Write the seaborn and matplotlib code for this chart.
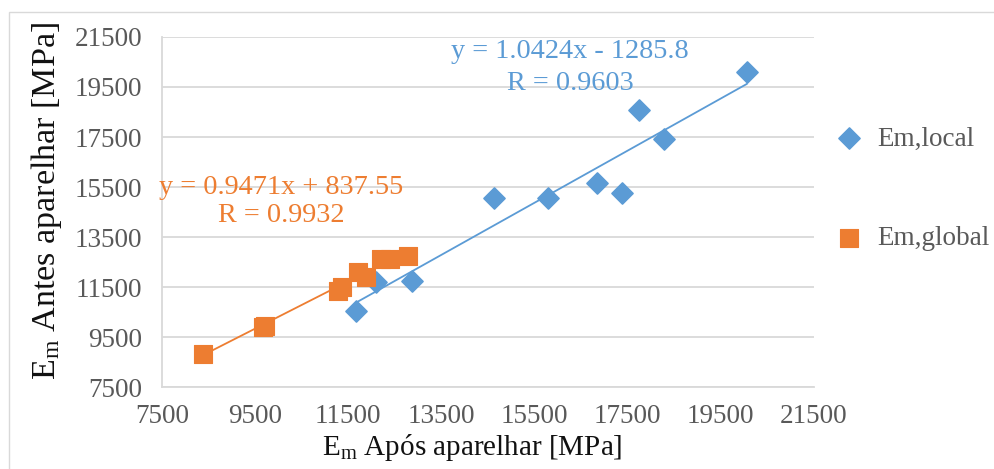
import numpy as np
import pandas as pd
import matplotlib
matplotlib.use("Agg")
import matplotlib.pyplot as plt
from matplotlib.patches import Rectangle
import seaborn as sns

# Modulus after straightening (x) vs. before straightening (y), MPa
local_x = [11666, 12095, 12868, 14629, 15789, 16841, 17378, 17743, 18280, 20062]
local_y = [10540, 11700, 11740, 15060, 15060, 15660, 15260, 18580, 17420, 20100]

global_x = [8374, 9669, 9712, 11279, 11365, 11709, 11880, 12192, 12385, 12789]
global_y = [8808, 9880, 9940, 11340, 11500, 12100, 11900, 12608, 12620, 12740]

# Linear trend lines (slope, intercept) and correlation
local_fit = (1.0424, -1285.8)
local_r = 0.9603
global_fit = (0.9471, 837.55)
global_r = 0.9932

x_ticks = [7500, 9500, 11500, 13500, 15500, 17500, 19500, 21500]
y_ticks = [7500, 9500, 11500, 13500, 15500, 17500, 19500, 21500]

BLUE = "#5B9BD5"
ORANGE = "#ED7D31"
GRID = "#D9D9D9"
TICK = "#595959"

sns.set_theme(style="white")
plt.rcParams["font.family"] = ["Liberation Serif", "DejaVu Serif"]
plt.rcParams["mathtext.fontset"] = "custom"
plt.rcParams["mathtext.rm"] = "Liberation Serif"

W, H = 994, 469
fig = plt.figure(figsize=(W / 100, H / 100), dpi=100)
fig.patch.set_facecolor("white")

# chart-area border
fig.patches.append(Rectangle((9 / W, -0.1), 1.2, 1.1 - 12 / H,
                             transform=fig.transFigure, fill=False,
                             edgecolor=GRID, linewidth=1.0))

ax = fig.add_axes([162 / W, 1 - 387 / H, 652 / W, 350 / H])

df = pd.DataFrame({
    "x": local_x + global_x,
    "y": local_y + global_y,
    "serie": ["Em,local"] * len(local_x) + ["Em,global"] * len(global_x),
})

# trend lines, spanning each series' x-range
for xs, (a, b), col in [(local_x, local_fit, BLUE), (global_x, global_fit, ORANGE)]:
    xx = np.array([min(xs), max(xs)])
    sns.lineplot(x=xx, y=a * xx + b, ax=ax, color=col, linewidth=1.3, zorder=2)

sns.scatterplot(data=df[df.serie == "Em,local"], x="x", y="y", ax=ax,
                marker="D", s=115, color=BLUE, edgecolor=BLUE, linewidth=1.2,
                label="Em,local", zorder=3)
sns.scatterplot(data=df[df.serie == "Em,global"], x="x", y="y", ax=ax,
                marker="s", s=165, color=ORANGE, edgecolor=ORANGE, linewidth=0.8,
                label="Em,global", zorder=3)

ax.set_xlim(7500, 21500)
ax.set_ylim(7500, 21500)
ax.set_xticks(x_ticks)
ax.set_yticks(y_ticks)
ax.set_xticklabels([str(t) for t in x_ticks])
ax.set_yticklabels([str(t) for t in y_ticks])
ax.tick_params(axis="both", length=0, labelsize=19.5, labelcolor=TICK)
ax.tick_params(axis="x", pad=12)
ax.tick_params(axis="y", pad=14)

ax.grid(axis="y", color=GRID, linewidth=1.3)
ax.grid(axis="x", visible=False)
ax.set_axisbelow(True)
for side in ["top", "right"]:
    ax.spines[side].set_visible(False)
for side in ["left", "bottom"]:
    ax.spines[side].set_color(GRID)
    ax.spines[side].set_linewidth(1.3)

ax.set_xlabel(r"$\mathregular{E_m}$ Após aparelhar [MPa]", fontsize=21,
              color="#111111")
ax.set_ylabel(r"$\mathregular{E_m}$ Antes aparelhar [MPa]", fontsize=24.5,
              color="#111111")
ax.xaxis.set_label_coords((472 - 162) / 652, (387 - 447) / 350, transform=ax.transAxes)
ax.yaxis.set_label_coords((47 - 162) / 652, (387 - 201) / 350, transform=ax.transAxes)
ax.xaxis.label.set_va("center")
ax.yaxis.label.set_va("center")

# trend-line equations
EQ = 20.3
fig.text(570 / W, 1 - 52 / H, f"y = {local_fit[0]}x - {abs(local_fit[1])}",
         fontsize=EQ, color=BLUE, ha="center", va="center")
fig.text(570 / W, 1 - 84 / H, f"R = {local_r}",
         fontsize=EQ, color=BLUE, ha="center", va="center")
fig.text(281 / W, 1 - 187 / H, f"y = {global_fit[0]}x + {global_fit[1]}",
         fontsize=EQ, color=ORANGE, ha="center", va="center")
fig.text(281 / W, 1 - 215 / H, f"R = {global_r}",
         fontsize=EQ, color=ORANGE, ha="center", va="center")

leg = ax.legend(loc="upper left", bbox_to_anchor=(819 / W, 1 - 113 / H),
                bbox_transform=fig.transFigure, frameon=False, fontsize=19.5,
                labelspacing=2.75, handletextpad=0.45, handlelength=1.2,
                borderpad=0)
for txt in leg.get_texts():
    txt.set_color(TICK)

fig.savefig("out.png", dpi=100)
